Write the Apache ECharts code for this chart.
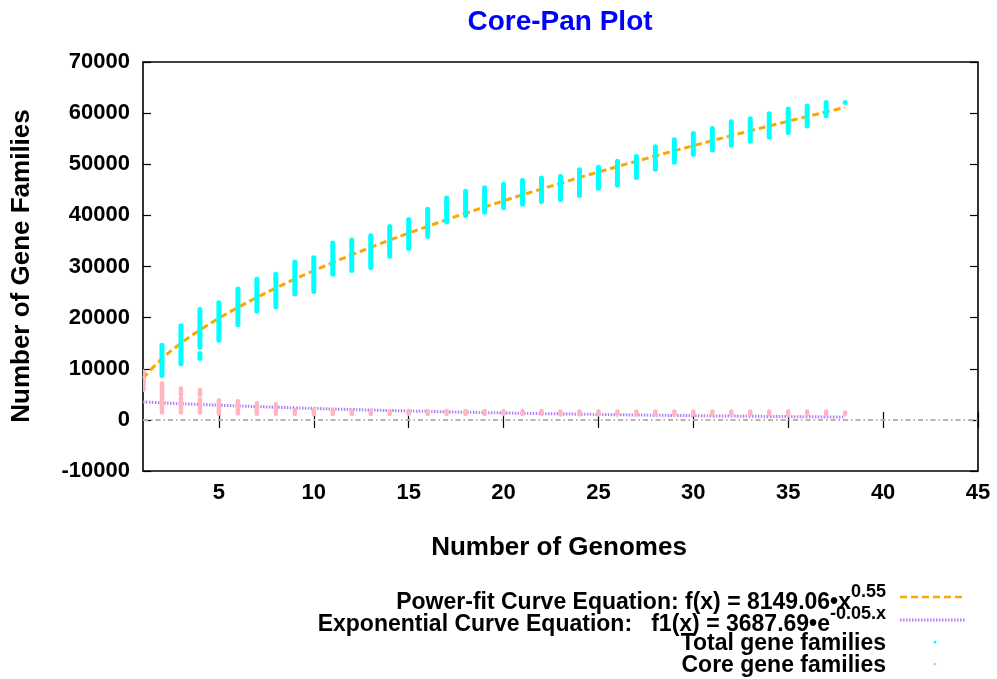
<!DOCTYPE html>
<html><head><meta charset="utf-8">
<script src="https://cdn.jsdelivr.net/npm/echarts@6/dist/echarts.min.js"></script>
<style>html,body{margin:0;padding:0;background:#fff}#c{width:997px;height:679px}</style>
</head><body><div id="c"></div>
<script>
// ---- data ----
const genomes = [1,2,3,4,5,6,7,8,9,10,11,12,13,14,15,16,17,18,19,20,21,22,23,24,25,26,27,28,29,30,31,32,33,34,35,36,37,38];
const totalMin = [5900,8600,10900,14100,15500,18500,21200,22000,24500,25000,28400,29100,29700,31900,33400,35800,38600,39900,40500,41400,42100,42600,43000,43800,45200,45800,47300,48900,50300,51800,52700,53600,54400,55200,56100,57400,59400,62000];
const totalMax = [9500,14700,18500,21700,23000,25700,27600,28600,31000,31800,34700,35300,36100,37900,39300,41300,43500,44800,45500,46200,46900,47400,47700,49000,49500,50700,51600,53500,54900,56100,57100,58400,59000,60000,60900,61500,62200,62200];
const totalExtra = [[4, 11900, 13100]];
const coreMin = [5900,1400,1400,1400,1200,1200,1100,1100,1100,1100,1100,1100,1100,1100,1100,1100,1100,1100,1100,1100,1100,1100,1000,1000,1000,1000,1000,1000,1000,1000,1000,1000,1000,1000,1000,1000,1000,1100];
const coreMax = [9500,7200,4300,4100,3900,3700,3300,3100,2000,2000,1900,1800,1800,1800,1800,1800,1800,1800,1800,1800,1800,1800,1700,1700,1700,1700,1700,1700,1700,1700,1700,1700,1700,1700,1700,1700,1700,1500];
const coreExtra = [[3, 4900, 6200], [4, 4800, 5900]];
const powerFit = [8149,11964,14977,17564,19876,21987,23948,25787,27526,29181,30763,32281,33747,35164,36532,37860,39154,40414,41641,42842,44018,45164,46293,47398,48482,49546,50593,51620,52637,53636,54615,55584,56543,57484,58411,59335,60237,61135];
const expFit = [3508,3337,3174,3019,2872,2732,2599,2472,2351,2237,2128,2024,1925,1831,1742,1657,1576,1499,1426,1357,1290,1228,1168,1111,1057,1005,956,909,865,823,783,745,708,674,641,610,580,552];
const xTicks = [5,10,15,20,25,30,35,40,45];
const yTicks = [-10000, 70000, 10000]; // min, max, step

// ---- build ----
const FONT = "'Liberation Sans', Arial, Helvetica, sans-serif";
const rangeData = (mins, maxs, extra) => genomes.map((g,i)=>[g, mins[i], maxs[i]]).concat(extra);
const totalData = rangeData(totalMin, totalMax, totalExtra);
const coreData = rangeData(coreMin, coreMax, coreExtra);
function rangeRender(color, w){
  return function(params, api){
    const p1 = api.coord([api.value(0), api.value(1)]);
    const p2 = api.coord([api.value(0), api.value(2)]);
    return {type:'rect', shape:{x:p1[0]-w/2, y:p2[1]-2, width:w, height:Math.abs(p1[1]-p2[1])+4, r:w/2}, style:{fill:color}};
  };
}
const tickStyle = {show:true, inside:true, length:8, lineStyle:{color:'#000', width:1.2}};
const supRich = {m:{fontFamily:FONT, fontWeight:'bold', fontSize:23, lineHeight:31, verticalAlign:'bottom', fill:'#000'},
                 s:{fontFamily:FONT, fontWeight:'bold', fontSize:18, lineHeight:18, verticalAlign:'top', fill:'#000'}};
const chart = echarts.init(document.getElementById('c'));
chart.setOption({
  animation:false,
  backgroundColor:'#fff',
  grid:{left:143, top:62, width:835, height:409, show:true, borderColor:'#000', borderWidth:1.6, backgroundColor:'transparent'},
  xAxis:[
    {type:'value', min:1, max:45, position:'bottom', axisLine:{show:false}, splitLine:{show:false},
     axisTick:Object.assign({customValues:xTicks}, tickStyle),
     axisLabel:{customValues:xTicks, margin:11, color:'#000', fontFamily:FONT, fontWeight:'bold', fontSize:22}},
    {type:'value', min:1, max:45, position:'top', axisLine:{show:false}, splitLine:{show:false},
     axisTick:Object.assign({customValues:xTicks}, tickStyle), axisLabel:{show:false, customValues:xTicks}}
  ],
  yAxis:[
    {type:'value', min:yTicks[0], max:yTicks[1], interval:yTicks[2], position:'left', axisLine:{show:false}, splitLine:{show:false},
     axisTick:tickStyle, axisLabel:{margin:13, color:'#000', fontFamily:FONT, fontWeight:'bold', fontSize:22, formatter:v=>String(v)}},
    {type:'value', min:yTicks[0], max:yTicks[1], interval:yTicks[2], position:'right', axisLine:{show:false}, splitLine:{show:false},
     axisTick:tickStyle, axisLabel:{show:false}}
  ],
  series:[
    {type:'line', data:genomes.map((g,i)=>[g, powerFit[i]]), smooth:true, symbol:'none', z:2,
     lineStyle:{color:'#FFA500', width:3, type:[7,4]},
     markLine:{silent:true, symbol:'none', label:{show:false}, data:[{yAxis:0}],
       lineStyle:{color:'#B4B4B4', width:2, type:[5,3,1.5,3]}}},
    {type:'line', data:genomes.map((g,i)=>[g, expFit[i]]), smooth:true, symbol:'none', z:2,
     lineStyle:{color:'#B07EF8', width:3, type:[1.5,1.5]}},
    {type:'custom', data:totalData, renderItem:rangeRender('#00FFFF', 5), clip:true, z:3, encode:{x:0, y:[1,2]}},
    {type:'custom', data:coreData, renderItem:rangeRender('#FFB6C1', 4.5), clip:true, z:4, encode:{x:0, y:[1,2]}}
  ],
  graphic:[
    {type:'text', x:560, y:22, style:{text:'Core-Pan Plot', fill:'#0000FF', font:'bold 28px '+FONT, textAlign:'center', textVerticalAlign:'middle'}},
    {type:'text', x:559, y:548, style:{text:'Number of Genomes', fill:'#000', font:'bold 26px '+FONT, textAlign:'center', textVerticalAlign:'middle'}},
    {type:'text', x:22, y:266, rotation:Math.PI/2, style:{text:'Number of Gene Families', fill:'#000', font:'bold 26px '+FONT, textAlign:'center', textVerticalAlign:'middle'}},
    {type:'text', x:886, y:599, style:{text:'{m|Power-fit Curve Equation: f(x) = 8149.06•x}{s|0.55}', textAlign:'right', textVerticalAlign:'middle', rich:supRich}},
    {type:'text', x:886, y:621, style:{text:'{m|Exponential Curve Equation:   f1(x) = 3687.69•e}{s|-0.05.x}', textAlign:'right', textVerticalAlign:'middle', rich:supRich}},
    {type:'text', x:886, y:644, style:{text:'Total gene families', fill:'#000', font:'bold 23px '+FONT, textAlign:'right', textVerticalAlign:'middle'}},
    {type:'text', x:886, y:666, style:{text:'Core gene families', fill:'#000', font:'bold 23px '+FONT, textAlign:'right', textVerticalAlign:'middle'}},
    {type:'line', shape:{x1:900, y1:597, x2:966, y2:597}, style:{stroke:'#FFA500', lineWidth:2.6, lineDash:[7,4]}},
    {type:'line', shape:{x1:900, y1:620, x2:966, y2:620}, style:{stroke:'#B07EF8', lineWidth:3, lineDash:[1.5,1.5]}},
    {type:'circle', shape:{cx:935, cy:642, r:1.5}, style:{fill:'#00FFFF'}},
    {type:'circle', shape:{cx:935, cy:664, r:1.5}, style:{fill:'#FFB6C1'}}
  ]
});
</script></body></html>
